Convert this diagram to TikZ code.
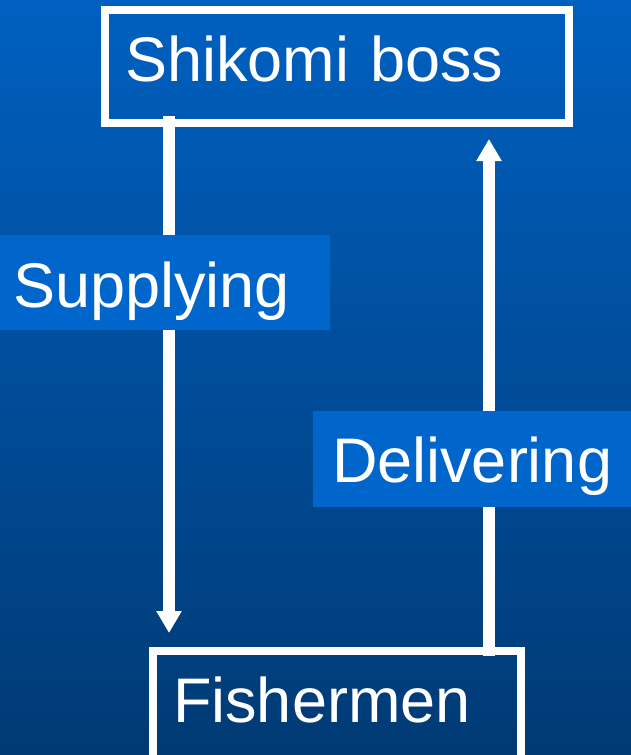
\documentclass[tikz,border=0pt]{standalone}
\usepackage{fontspec}
\setmainfont{Liberation Sans}
\usetikzlibrary{arrows.meta,calc}
\definecolor{bgtop}{HTML}{0060C0}
\definecolor{bgbot}{HTML}{003A74}
\definecolor{labfill}{HTML}{0066CC}
\tikzset{
  bigtext/.style={font=\fontsize{63}{75}\selectfont, text=white},
  framebox/.style={bigtext, draw=white, line width=8pt, rectangle, outer sep=0pt,
    inner ysep=0pt, inner xsep=20pt, align=left, minimum height=113pt,
    text height=46pt, text depth=17pt},
  flowlabel/.style={bigtext, fill=labfill, rectangle, outer sep=0pt, inner ysep=0pt,
    align=left, text depth=0pt},
  flowarrow/.style={draw=white, line width=12pt, -{Triangle[width=24pt,length=22pt]}}
}
\begin{document}
\begin{tikzpicture}[x=1pt,y=-1pt]
\useasboundingbox (0,0) rectangle (631,755);
\begin{scope}
\clip (0,0) rectangle (631,755);
\shade[top color=bgtop, bottom color=bgbot] (0,0) rectangle (631,755);
\node[framebox, minimum width=464pt, text width=424pt] (sb) at (337,66.5) {Shikomi boss};
\node[framebox, minimum width=368pt, text width=328pt] (fm) at (337,707.5) {Fishermen};
\draw[flowarrow] ($(sb.south west)+(64,-7)$) -- ($(fm.north west)+(16,-18)$);
\draw[flowarrow] ($(fm.north east)+(-32,5)$) -- ($(sb.south east)+(-80,16)$);
\node[flowlabel, minimum width=330pt, minimum height=95pt, inner xsep=13pt,
  text width=304pt, text height=49pt] (sup) at (165,282.5) {Supplying};
\node[flowlabel, minimum width=327pt, minimum height=96pt, inner xsep=19pt,
  text width=289pt, text height=46pt] (del) at (476.5,459) {Delivering};
\end{scope}
\end{tikzpicture}
\end{document}
